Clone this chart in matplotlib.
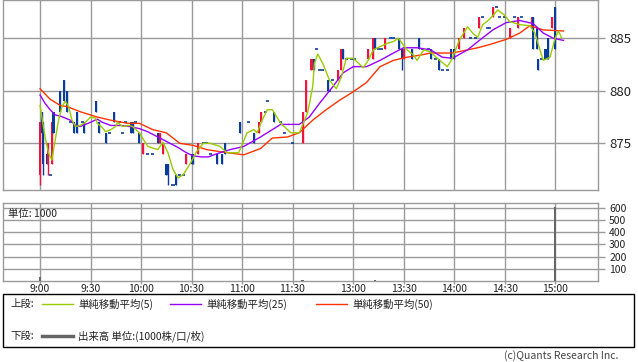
import matplotlib
matplotlib.use('Agg')
import matplotlib.pyplot as plt
from matplotlib.patches import Rectangle
from matplotlib.lines import Line2D

plt.rcParams['font.family'] = ['Noto Sans CJK JP', 'DejaVu Sans']

#=======================================================================
# data (x = minute slot counted from 9:00, lunch break squeezed out)
#=======================================================================

time_labels = ['9:00', '9:30', '10:00', '10:30', '11:00', '11:30',
               '13:00', '13:30', '14:00', '14:30', '15:00']
time_pos = [0, 30, 60, 90, 120, 150, 186, 216, 246, 276, 306]

price_ticks = [875, 880, 885]
vol_ticks = [100, 200, 300, 400, 500, 600]

c_idx = [0, 1, 2, 4, 5, 6, 7, 8, 12, 14, 16, 18, 20, 22, 25, 26, 33, 35, 39, 41,
         44, 47, 49, 51, 54, 55, 57, 59, 61, 64, 67, 70, 71, 73, 75, 76, 79, 81, 83, 85,
         87, 90, 91, 94, 97, 99, 101, 105, 108, 110, 119, 124, 127, 130, 131, 134, 135, 139, 143, 145,
         150, 156, 158, 161, 162, 163, 164, 166, 168, 171, 172, 174, 177, 179, 180, 182, 185, 187, 195, 198,
         199, 201, 203, 205, 208, 210, 213, 215, 216, 221, 225, 227, 231, 232, 235, 237, 239, 242, 244, 246,
         249, 252, 256, 259, 261, 263, 266, 267, 269, 271, 273, 276, 279, 282, 284, 286, 292, 293, 295, 296,
         298, 300, 301, 302, 304, 306]
c_open = [872, 878, 877, 874, 873, 872, 873, 878, 880, 881, 880, 877, 877, 878, 877, 877, 879, 877, 876, 876,
          878, 877, 876, 877, 877, 877, 877, 876, 874, 874, 874, 876, 875, 874, 873, 873, 871, 872, 872, 872,
          873, 874, 874, 874, 875, 875, 874, 874, 874, 875, 877, 877, 876, 876, 877, 878, 879, 878, 877, 876,
          875, 875, 878, 882, 882, 883, 884, 882, 882, 881, 880, 881, 881, 882, 884, 883, 883, 883, 883, 883,
          885, 884, 884, 884, 885, 885, 885, 884, 883, 884, 885, 884, 884, 884, 883, 883, 882, 882, 884, 884,
          884, 885, 885, 885, 886, 887, 886, 886, 887, 888, 887, 887, 885, 887, 886, 887, 886, 887, 886, 883,
          883, 884, 884, 885, 886, 888]
c_high = [877, 878, 877, 874, 875, 872, 877, 878, 880, 881, 880, 877, 877, 878, 877, 877, 879, 877, 876, 876,
          878, 877, 876, 877, 877, 877, 877, 876, 875, 874, 874, 876, 876, 875, 873, 873, 871, 872, 872, 872,
          874, 874, 874, 875, 875, 875, 874, 874, 874, 875, 877, 877, 876, 877, 878, 878, 879, 878, 877, 876,
          875, 878, 881, 883, 883, 883, 884, 882, 882, 881, 880, 881, 882, 884, 884, 883, 883, 883, 884, 885,
          885, 884, 884, 885, 885, 885, 885, 884, 884, 884, 885, 884, 884, 884, 883, 883, 882, 882, 884, 884,
          885, 886, 885, 885, 887, 887, 886, 886, 888, 888, 887, 887, 886, 887, 887, 887, 887, 887, 886, 883,
          883, 884, 884, 885, 887, 888]
c_low = [871, 876, 872, 873, 872, 872, 873, 876, 878, 879, 878, 877, 876, 876, 877, 876, 878, 876, 875, 876,
         877, 877, 876, 877, 876, 876, 877, 875, 874, 874, 874, 875, 875, 874, 872, 871, 871, 871, 872, 872,
         873, 873, 873, 874, 875, 875, 874, 873, 873, 874, 876, 877, 875, 876, 877, 878, 879, 877, 877, 876,
         875, 875, 878, 882, 882, 882, 884, 882, 882, 880, 880, 881, 881, 882, 883, 883, 883, 883, 883, 883,
         884, 884, 884, 884, 885, 885, 884, 882, 883, 883, 884, 884, 884, 883, 883, 882, 882, 882, 883, 883,
         884, 885, 885, 885, 886, 887, 886, 886, 887, 888, 887, 887, 885, 887, 886, 887, 886, 884, 884, 882,
         883, 883, 883, 883, 886, 884]
c_close = [877, 876, 873, 873, 875, 872, 877, 876, 878, 879, 878, 877, 876, 876, 877, 876, 878, 876, 875, 876,
           877, 877, 876, 877, 876, 876, 877, 875, 875, 874, 874, 875, 876, 875, 872, 872, 871, 871, 872, 872,
           874, 873, 873, 875, 875, 875, 874, 873, 873, 874, 876, 877, 875, 877, 878, 878, 879, 877, 877, 876,
           875, 878, 881, 883, 883, 882, 884, 882, 882, 880, 880, 881, 882, 884, 883, 883, 883, 883, 884, 885,
           884, 884, 884, 885, 885, 885, 884, 883, 884, 883, 884, 884, 884, 883, 883, 882, 882, 882, 883, 883,
           885, 886, 885, 885, 887, 887, 886, 886, 888, 888, 887, 887, 886, 887, 887, 887, 887, 884, 884, 882,
           883, 883, 883, 883, 887, 884]

# moving averages
ma5_x = [0, 3, 5, 7, 9, 11, 13, 15, 17, 19, 21, 24, 27, 30, 33, 34, 37, 39, 42, 45,
         46, 49, 53, 55, 59, 64, 70, 73, 76, 79, 82, 85, 89, 93, 97, 101, 107, 111, 118, 123,
         127, 129, 132, 135, 138, 143, 149, 154, 159, 162, 163, 165, 168, 172, 176, 179, 182, 186, 192, 195,
         198, 202, 206, 210, 213, 218, 222, 224, 228, 232, 236, 242, 245, 249, 254, 257, 260, 263, 267, 272,
         276, 279, 285, 291, 294, 297, 299, 303, 306, 308, 310]
ma5_y = [878.6, 875.6, 874.1, 873.4, 875.3, 877.2, 878.5, 879.0, 878.5, 877.2, 876.6, 876.7, 877.0, 877.5, 877.4, 876.9, 876.5, 876.1, 876.3, 876.6,
         877.0, 876.6, 876.7, 876.6, 876.0, 874.7, 874.4, 875.1, 874.1, 872.5, 871.7, 872.0, 873.0, 874.2, 875.0, 875.0, 874.7, 874.1, 874.1, 876.0,
         876.3, 876.0, 877.2, 878.2, 878.2, 876.9, 876.0, 876.0, 877.9, 880.4, 882.6, 883.5, 882.6, 881.0, 880.2, 881.3, 883.1, 883.1, 882.2, 882.9,
         883.9, 884.2, 884.5, 884.7, 885.0, 883.9, 883.4, 882.9, 883.9, 883.7, 883.1, 882.3, 883.1, 884.8, 886.1, 885.5, 885.1, 886.3, 886.8, 887.7,
         887.2, 886.6, 886.3, 886.2, 885.5, 883.9, 882.9, 883.2, 885.0, 885.7, 885.0]

ma25_x = [0, 3, 6, 9, 12, 18, 21, 24, 27, 30, 34, 37, 42, 48, 53, 59, 64, 70, 76, 82,
          87, 91, 96, 100, 105, 113, 121, 131, 143, 154, 160, 166, 174, 180, 186, 194, 202, 210, 216, 224,
          232, 239, 245, 254, 261, 269, 277, 285, 293, 299, 305, 311]
ma25_y = [879.6, 878.8, 878.2, 877.7, 877.6, 877.2, 876.7, 876.6, 876.8, 877.0, 877.3, 877.0, 876.7, 876.7, 876.6, 876.4, 876.1, 875.6, 875.1, 874.6,
          874.1, 873.8, 873.7, 873.7, 874.0, 874.4, 874.7, 875.6, 876.8, 876.8, 877.5, 878.8, 880.4, 881.7, 882.3, 882.3, 882.9, 883.6, 884.1, 884.1,
          883.9, 883.2, 883.1, 883.9, 884.8, 885.8, 886.5, 886.7, 886.4, 885.5, 885.0, 884.8]

ma50_x = [0, 6, 12, 16, 24, 34, 42, 52, 59, 67, 75, 83, 91, 99, 107, 121, 131, 138, 147, 154,
          162, 170, 178, 186, 194, 202, 210, 218, 226, 232, 245, 260, 267, 277, 285, 291, 299, 311]
ma50_y = [880.2, 879.2, 878.6, 878.5, 878.0, 877.5, 877.2, 876.9, 876.9, 876.3, 876.0, 875.0, 874.8, 874.4, 874.2, 873.9, 874.5, 875.5, 875.6, 876.0,
          877.2, 878.2, 879.1, 879.9, 880.8, 882.3, 882.9, 883.2, 883.4, 883.6, 883.6, 884.1, 884.4, 884.9, 885.5, 886.2, 885.8, 885.7]

vol_idx = [0, 156, 199, 306]
vol_val = [30, 8, 5, 610]

#=======================================================================
# styles
#=======================================================================

up_col = '#f0143c'
dn_col = '#0a3c9b'
grid_col = '#9a9a9a'
ma5_col = '#99cc00'
ma25_col = '#9900ff'
ma50_col = '#ff3300'
vol_col = '#666666'

W, H = 638, 362
fig = plt.figure(figsize=(W / 100, H / 100), dpi=100)

def px_axes(x0, y0, x1, y1):
    return fig.add_axes([x0 / W, 1 - y1 / H, (x1 - x0) / W, (y1 - y0) / H])

def style_axes(a):
    for s in a.spines.values():
        s.set_color(grid_col)
        s.set_linewidth(1.0)
    a.grid(True, color=grid_col, linewidth=1.0)
    a.set_axisbelow(True)
    a.tick_params(colors=grid_col, labelcolor='#222222', length=5, width=1.0)

#=======================================================================
# price panel
#=======================================================================

ax = px_axes(3, 0, 598, 190)
style_axes(ax)
ax.set_xlim(-22, 331.5)
ax.set_ylim(870.55, 888.65)
ax.set_xticks(time_pos)
ax.set_xticklabels([])
ax.tick_params(axis='x', length=0)
ax.set_yticks(price_ticks)
ax.yaxis.tick_right()
ax.tick_params(axis='y', labelsize=9.5, pad=3)

for i, o, h, l, c in zip(c_idx, c_open, c_high, c_low, c_close):
    col = up_col if c > o else dn_col
    ax.vlines(i, l, h, color=col, linewidth=1.0, zorder=3)
    if c == o:
        ax.hlines(o, i - 0.9, i + 0.9, color=col, linewidth=1.2, zorder=3)
    else:
        ax.bar(i, abs(c - o), bottom=min(o, c), width=1.2, color=col,
               linewidth=0, zorder=3)

ax.plot(ma50_x, ma50_y, color=ma50_col, linewidth=1.0, zorder=4)
ax.plot(ma25_x, ma25_y, color=ma25_col, linewidth=1.0, zorder=4)
ax.plot(ma5_x, ma5_y, color=ma5_col, linewidth=1.0, zorder=5)

#=======================================================================
# volume panel
#=======================================================================

axv = px_axes(3, 203, 598, 281)
style_axes(axv)
axv.set_xlim(-22, 331.5)
axv.set_ylim(0, 640)
axv.set_xticks(time_pos)
axv.set_xticklabels(time_labels, fontsize=7.5)
axv.set_yticks(vol_ticks)
axv.yaxis.tick_right()
axv.tick_params(axis='y', labelsize=7.5, pad=3)
axv.tick_params(axis='x', length=2, pad=0.5)
axv.bar(vol_idx, vol_val, width=1.6, color=vol_col, linewidth=0, zorder=3)
axv.text(0.008, 0.93, '単位: 1000', transform=axv.transAxes, fontsize=7.5,
         va='top', ha='left', color='#222222')

#=======================================================================
# legend box
#=======================================================================

fig.patches.append(Rectangle((3 / W, 1 - 347 / H), 631 / W, 53 / H,
                             transform=fig.transFigure, fill=False,
                             edgecolor='black', linewidth=1.0))

def fx(x):
    return x / W

def fy(y):
    return 1 - y / H

row1, row2 = 304, 336
fig.text(fx(10), fy(row1), '上段:', fontsize=7.5, va='center', color='#222222')
fig.text(fx(10), fy(row2), '下段:', fontsize=7.5, va='center', color='#222222')

legend_items = [(42, 73, ma5_col, 78, '単純移動平均(5)'),
                (170, 201, ma25_col, 206, '単純移動平均(25)'),
                (316, 347, ma50_col, 352, '単純移動平均(50)')]
for x0, x1, col, tx, label in legend_items:
    fig.lines.append(Line2D([fx(x0), fx(x1)], [fy(row1), fy(row1)],
                            transform=fig.transFigure, color=col, linewidth=1.0))
    fig.text(fx(tx), fy(row1), label, fontsize=7.5, va='center', color='#222222')

fig.lines.append(Line2D([fx(42), fx(73)], [fy(row2), fy(row2)],
                        transform=fig.transFigure, color=vol_col, linewidth=2.5))
fig.text(fx(78), fy(row2), '出来高 単位:(1000株/口/枚)', fontsize=7.5, va='center',
         color='#222222')

fig.text(fx(618), fy(356), '(c)Quants Research Inc.', fontsize=7.5, ha='right',
         va='center', color='#444444')

fig.savefig('out.png', dpi=100)
